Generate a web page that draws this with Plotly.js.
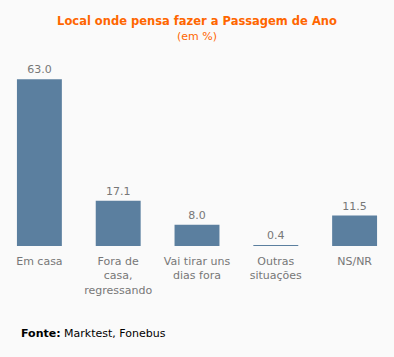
<!DOCTYPE html>
<html><head><meta charset="utf-8">
<script src="https://cdn.plot.ly/plotly-3.0.1.min.js"></script>
<style>html,body{margin:0;padding:0;background:#fafafa;}</style>
</head><body>
<div id="chart" style="width:394px;height:357px;"></div>
<script>
const categories = ["Em casa", "Fora de<br>casa,<br>regressando", "Vai tirar uns<br>dias fora", "Outras<br>situações", "NS/NR"];
const values = [63.0, 17.1, 8.0, 0.4, 11.5];
const valueLabels = ["63.0", "17.1", "8.0", "0.4", "11.5"];
const titleText = "<b>Local onde pensa fazer a Passagem de Ano</b><br><span style='font-size:11px'>(em %)</span>";
const sourceText = "<b>Fonte:</b> Marktest, Fonebus";

const trace = {
  type: "bar",
  x: categories,
  y: values,
  text: valueLabels,
  texttemplate: "%{text}",
  textposition: "outside",
  cliponaxis: false,
  textfont: {family: "DejaVu Sans", size: 11, color: "#777777"},
  marker: {color: "#5b7f9f"},
  hoverinfo: "none"
};

const layout = {
  width: 394, height: 357,
  paper_bgcolor: "#fafafa", plot_bgcolor: "#fafafa",
  margin: {l: 0, r: 0, t: 50, b: 111},
  bargap: 0.43,
  showlegend: false,
  title: {text: titleText, x: 0.5, xanchor: "center", y: 0.93, yanchor: "top",
          font: {family: "DejaVu Sans", size: 11.5, color: "#ff6600"}},
  xaxis: {showline: false, showgrid: false, zeroline: false, ticks: "",
          tickfont: {family: "DejaVu Sans", size: 11, color: "#777777"},
          ticklabelstandoff: 7},
  yaxis: {visible: false, range: [0, 74], showgrid: false, zeroline: false},
  annotations: [{text: sourceText, xref: "paper", yref: "paper", x: -0.0, y: 0, 
                 xanchor: "left", yanchor: "middle", showarrow: false,
                 xshift: 19, yshift: -87,
                 font: {family: "DejaVu Sans", size: 11, color: "#000000"}}]
};

Plotly.newPlot("chart", [trace], layout, {displayModeBar: false, staticPlot: true});
</script>
</body></html>
